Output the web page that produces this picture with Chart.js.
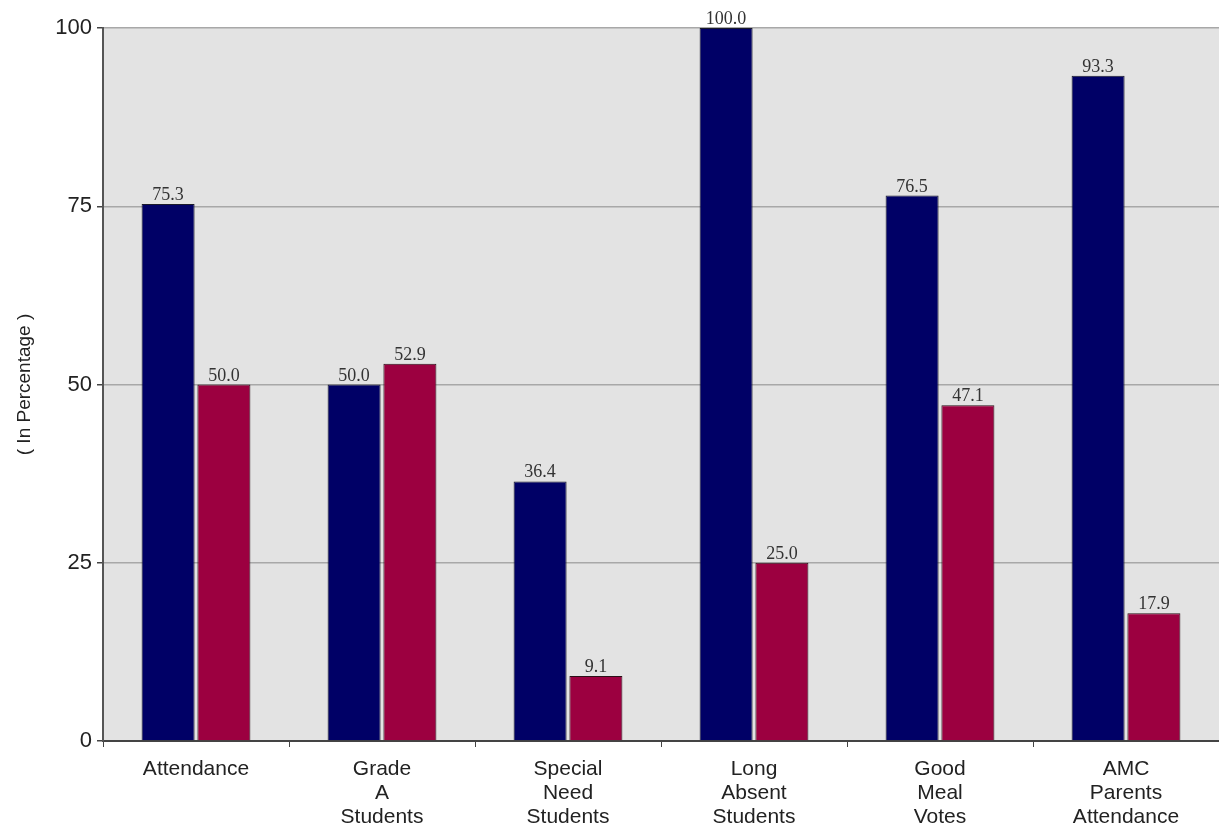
<!DOCTYPE html>
<html>
<head>
<meta charset="utf-8">
<script src="https://cdn.jsdelivr.net/npm/chart.js@4/dist/chart.umd.min.js"></script>
<style>
  html, body { margin: 0; padding: 0; background: #ffffff; }
  #wrap { width: 1219px; height: 829px; position: relative; }
</style>
</head>
<body>
<div id="wrap"><canvas id="chart"></canvas></div>
<script>
// Category labels (multi-line) along the x axis
const categories = [
  ['Attendance'],
  ['Grade', 'A', 'Students'],
  ['Special', 'Need', 'Students'],
  ['Long', 'Absent', 'Students'],
  ['Good', 'Meal', 'Votes'],
  ['AMC', 'Parents', 'Attendance']
];

// Two series, in percent
const seriesA = [75.3, 50.0, 36.4, 100.0, 76.5, 93.3];
const seriesB = [50.0, 52.9, 9.1, 25.0, 47.1, 17.9];

// Y axis tick values
const yTicks = [0, 25, 50, 75, 100];

// Grey backdrop behind the plotting area
const plotBackground = {
  id: 'plotBackground',
  beforeDraw(chart) {
    const { ctx, chartArea: a } = chart;
    ctx.save();
    ctx.fillStyle = '#e3e3e3';
    ctx.fillRect(a.left, a.top, a.right - a.left, a.bottom - a.top);
    ctx.restore();
  }
};

// Numeric labels printed above each bar
const valueLabels = {
  id: 'valueLabels',
  afterDatasetsDraw(chart) {
    const { ctx } = chart;
    ctx.save();
    ctx.font = '18px "Liberation Serif", "Times New Roman", serif';
    ctx.fillStyle = '#333333';
    ctx.textAlign = 'center';
    ctx.textBaseline = 'alphabetic';
    chart.data.datasets.forEach((ds, i) => {
      chart.getDatasetMeta(i).data.forEach((bar, j) => {
        ctx.fillText(ds.data[j].toFixed(1), bar.x, bar.y - 4);
      });
    });
    ctx.restore();
  }
};

new Chart(document.getElementById('chart'), {
  type: 'bar',
  data: {
    labels: categories,
    datasets: [
      {
        data: seriesA,
        backgroundColor: '#000066',
        borderColor: '#1a1a2a',
        borderWidth: 1,
        barPercentage: 0.95,
        categoryPercentage: 0.6
      },
      {
        data: seriesB,
        backgroundColor: '#9c0040',
        borderColor: '#2a1018',
        borderWidth: 1,
        barPercentage: 0.95,
        categoryPercentage: 0.6
      }
    ]
  },
  options: {
    responsive: true,
    maintainAspectRatio: false,
    animation: false,
    layout: { padding: { top: 28, right: 0, left: 0, bottom: 0 } },
    plugins: {
      legend: { display: false },
      tooltip: { enabled: false }
    },
    scales: {
      x: {
        grid: {
          display: true,
          drawOnChartArea: false,
          drawTicks: true,
          tickLength: 6,
          tickColor: '#444444',
          offset: true
        },
        border: { display: true, color: '#444444', width: 2 },
        ticks: {
          color: '#222222',
          padding: 10,
          maxRotation: 0,
          autoSkip: false,
          font: { family: '"Liberation Sans", Arial, sans-serif', size: 21, lineHeight: 1.14 }
        },
        afterFit(scale) { scale.height = 88; }
      },
      y: {
        min: 0,
        max: 100,
        afterBuildTicks(scale) { scale.ticks = yTicks.map(v => ({ value: v })); },
        grid: {
          color: '#a8a8a8',
          lineWidth: 1.5,
          drawTicks: true,
          tickLength: 6,
          tickColor: '#444444'
        },
        border: { display: true, color: '#555555', width: 2 },
        ticks: {
          color: '#222222',
          padding: 5,
          font: { family: '"Liberation Sans", Arial, sans-serif', size: 22 }
        },
        title: {
          display: true,
          text: '( In Percentage )',
          color: '#222222',
          padding: { top: 13, bottom: 10 },
          font: { family: '"Liberation Sans", Arial, sans-serif', size: 19 }
        },
        afterFit(scale) { scale.width = 103; }
      }
    }
  },
  plugins: [plotBackground, valueLabels]
});
</script>
</body>
</html>
